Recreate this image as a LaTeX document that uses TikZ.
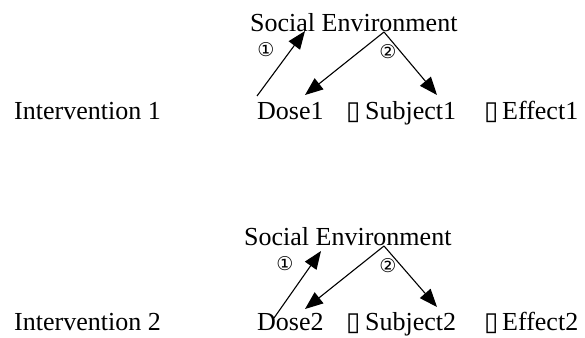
\documentclass[tikz,border=0pt]{standalone}
\usepackage{fontspec}
\setmainfont{Liberation Serif}
\newfontfamily\symfont{DejaVu Sans}
\usetikzlibrary{arrows.meta}

\begin{document}
\begin{tikzpicture}[
    x=1pt, y=-1pt,
    word/.style={anchor=base west, inner sep=0pt, font=\fontsize{26}{30}\selectfont},
    num/.style={inner sep=0pt, font=\symfont\fontsize{19}{22}\selectfont},
    gap/.style={anchor=south west, inner sep=0pt, font=\symfont\fontsize{26}{30}\selectfont},
    arrow/.style={-{Triangle[length=18pt,width=14pt]}, line width=1.1pt}
]
\useasboundingbox (0,0) rectangle (585,337);

% first intervention
\node[word] (int1) at (14,119) {Intervention 1};
\node[word] (env1) at (250,32) {Social Environment};
\node[word] (dose1) at (257,119) {Dose1};
\node[gap] (gapa1) at (346,123) {▯};
\node[word] (subj1) at (365,119) {Subject1};
\node[gap] (gapb1) at (484,123) {▯};
\node[word] (eff1) at (502,119) {Effect1};
\node[num] (one1) at (266,50) {①};
\node[num] (two1) at (388,52) {②};

\coordinate (foot1) at (257,96);
\coordinate (head1) at (305,31);
\coordinate (apex1) at (384,32);
\coordinate (left1) at (305,95);
\coordinate (right1) at (437,95);
\draw[arrow] (foot1) -- (head1);
\draw[arrow] (apex1) -- (left1);
\draw[arrow] (apex1) -- (right1);

% second intervention
\node[word] (int2) at (14,330) {Intervention 2};
\node[word] (env2) at (244,245) {Social Environment};
\node[word] (dose2) at (257,330) {Dose2};
\node[gap] (gapa2) at (346,334) {▯};
\node[word] (subj2) at (365,330) {Subject2};
\node[gap] (gapb2) at (484,334) {▯};
\node[word] (eff2) at (502,330) {Effect2};
\node[num] (one2) at (285,264) {①};
\node[num] (two2) at (388,266) {②};

\coordinate (foot2) at (274,318);
\coordinate (head2) at (321,251);
\coordinate (apex2) at (384,246);
\coordinate (left2) at (305,309);
\coordinate (right2) at (437,307);
\draw[arrow] (foot2) -- (head2);
\draw[arrow] (apex2) -- (left2);
\draw[arrow] (apex2) -- (right2);
\end{tikzpicture}
\end{document}
